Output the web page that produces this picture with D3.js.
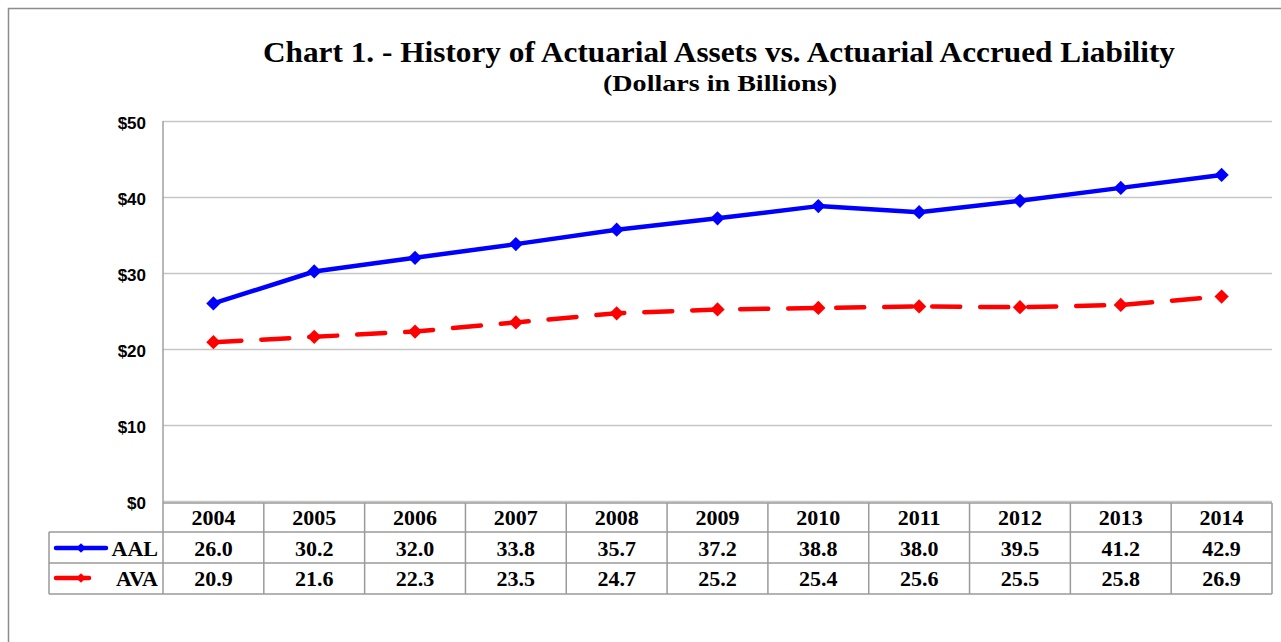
<!DOCTYPE html>
<html>
<head>
<meta charset="utf-8">
<script src="https://cdn.jsdelivr.net/npm/d3@7"></script>
<style>
  body { margin: 0; background: #fff; }
  svg { display: block; }
</style>
</head>
<body>
<div id="chart"></div>
<script>
// data
const years = ['2004','2005','2006','2007','2008','2009','2010','2011','2012','2013','2014'];
const aal = [26.0, 30.2, 32.0, 33.8, 35.7, 37.2, 38.8, 38.0, 39.5, 41.2, 42.9];
const ava = [20.9, 21.6, 22.3, 23.5, 24.7, 25.2, 25.4, 25.6, 25.5, 25.8, 26.9];
const yTicks = [0, 10, 20, 30, 40, 50];
const seriesNames = ['AAL', 'AVA'];

const width = 1281, height = 642;
const plot = {left: 163, right: 1272, top: 121, bottom: 501};
const tableRows = [503, 532, 563, 594];
const serif = '"Liberation Serif", "Times New Roman", serif';
const sans = '"Liberation Sans", Arial, sans-serif';

const svg = d3.select('#chart').append('svg')
  .attr('width', width).attr('height', height);

// outer chart frame
svg.append('rect')
  .attr('x', 8.5).attr('y', 8.5)
  .attr('width', width + 20).attr('height', height + 20)
  .attr('fill', 'none').attr('stroke', '#8c8c8c').attr('stroke-width', 1.5);

//scales
const xScale = d3.scaleBand().domain(years).range([plot.left, plot.right]);
const yScale = d3.scaleLinear().domain([0, 50]).range([plot.bottom, plot.top]);

//grid + y labels
const yAxis = d3.axisLeft(yScale).tickValues(yTicks)
  .tickFormat(d => '$' + d)
  .tickSizeInner(-(plot.right - plot.left)).tickSizeOuter(0).tickPadding(17);
const yAxisDraw = svg.append('g')
  .attr('transform', `translate(${plot.left},0)`)
  .call(yAxis);
yAxisDraw.select('.domain').remove();
yAxisDraw.selectAll('.tick line').attr('stroke', '#c6c6c6').attr('stroke-width', 1.5);
yAxisDraw.selectAll('.tick text')
  .attr('dy', '0.45em')
  .style('font-family', sans).style('font-size', '17px').style('font-weight', 'bold')
  .attr('fill', '#000');

// left axis line
svg.append('line')
  .attr('x1', plot.left).attr('x2', plot.left)
  .attr('y1', plot.top).attr('y2', tableRows[0])
  .attr('stroke', '#a0a0a0').attr('stroke-width', 1.5);

//title
svg.append('text')
  .attr('x', 263).attr('y', 62)
  .attr('textLength', 912).attr('lengthAdjust', 'spacingAndGlyphs')
  .style('font-family', serif).style('font-size', '30px').style('font-weight', 'bold')
  .text('Chart 1. - History of Actuarial Assets vs. Actuarial Accrued Liability');
svg.append('text')
  .attr('x', 603).attr('y', 91)
  .attr('textLength', 234).attr('lengthAdjust', 'spacingAndGlyphs')
  .style('font-family', serif).style('font-size', '24px').style('font-weight', 'bold')
  .text('(Dollars in Billions)');

//lines
const cx = d => xScale(d) + xScale.bandwidth() / 2;
const series = [
  {name: 'AAL', values: aal, color: '#0000ff', dash: null},
  {name: 'AVA', values: ava, color: '#ff0000', dash: '28,20'}
];
const line = d3.line().x((d, i) => cx(years[i])).y(d => yScale(d));
const diamond = d3.symbol().type(d3.symbolDiamond2).size(130);

series.forEach(s => {
  svg.append('path')
    .datum(s.values)
    .attr('d', line)
    .attr('fill', 'none')
    .attr('stroke', s.color)
    .attr('stroke-width', 4.5)
    .attr('stroke-linecap', 'round')
    .attr('stroke-linejoin', 'round')
    .attr('stroke-dasharray', s.dash);
  svg.append('g').selectAll('path')
    .data(s.values).join('path')
    .attr('d', diamond)
    .attr('transform', (d, i) => `translate(${cx(years[i])},${yScale(d)})`)
    .attr('fill', s.color);
});

//data table
const table = svg.append('g').attr('class', 'table');
const border = {stroke: '#9a9a9a', width: 1.5};
const hline = (x1, x2, y) => table.append('line')
  .attr('x1', x1).attr('x2', x2).attr('y1', y).attr('y2', y)
  .attr('stroke', border.stroke).attr('stroke-width', border.width);
const vline = (x, y1, y2) => table.append('line')
  .attr('x1', x).attr('x2', x).attr('y1', y1).attr('y2', y2)
  .attr('stroke', border.stroke).attr('stroke-width', border.width);

const legendLeft = 49;
hline(plot.left, plot.right, tableRows[0]);
hline(legendLeft, plot.right, tableRows[1]);
hline(legendLeft, plot.right, tableRows[2]);
hline(legendLeft, plot.right, tableRows[3]);
vline(legendLeft, tableRows[1], tableRows[3]);
vline(plot.left, tableRows[0], tableRows[3]);
years.forEach(y => vline(xScale(y) + xScale.bandwidth(), tableRows[0], tableRows[3]));

const cellText = (x, y, t) => table.append('text')
  .attr('x', x).attr('y', y)
  .attr('text-anchor', 'middle')
  .style('font-family', serif).style('font-size', '22px').style('font-weight', 'bold')
  .text(t);

years.forEach(y => cellText(cx(y), 525, y));
aal.forEach((v, i) => cellText(cx(years[i]), 556, v.toFixed(1)));
ava.forEach((v, i) => cellText(cx(years[i]), 586, v.toFixed(1)));

// legend keys inside the table
const legendKeys = [
  {name: seriesNames[0], color: '#0000ff', x1: 56, x2: 106, y: 548},
  {name: seriesNames[1], color: '#ff0000', x1: 56, x2: 89, y: 578}
];
legendKeys.forEach(k => {
  table.append('line')
    .attr('x1', k.x1).attr('x2', k.x2).attr('y1', k.y).attr('y2', k.y)
    .attr('stroke', k.color).attr('stroke-width', 4.5).attr('stroke-linecap', 'round');
  table.append('path')
    .attr('d', d3.symbol().type(d3.symbolDiamond2).size(60))
    .attr('transform', `translate(81,${k.y})`)
    .attr('fill', k.color);
  table.append('text')
    .attr('x', 158).attr('y', k.y + 8)
    .attr('text-anchor', 'end')
    .style('font-family', serif).style('font-size', '22px').style('font-weight', 'bold')
    .text(k.name);
});
</script>
</body>
</html>
